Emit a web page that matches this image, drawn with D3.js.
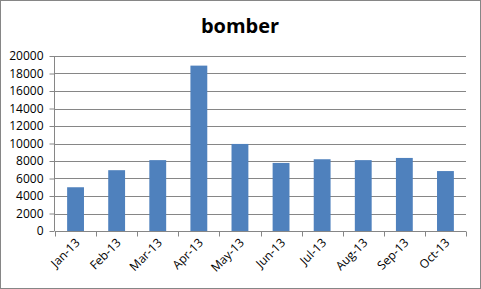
<!DOCTYPE html>
<html>
<head>
<meta charset="utf-8">
<script src="https://cdn.jsdelivr.net/npm/d3@7"></script>
<style>
  body { margin: 0; background: #fff; }
  text { font-family: "Open Sans", "Liberation Sans", sans-serif; }
</style>
</head>
<body>
<div id="chart"></div>
<script>
"use strict"

// data
const months = ["Jan-13", "Feb-13", "Mar-13", "Apr-13", "May-13", "Jun-13", "Jul-13", "Aug-13", "Sep-13", "Oct-13"];
const counts = [5000, 6950, 8100, 18900, 9950, 7780, 8200, 8100, 8350, 6850];
const yTicks = [0, 2000, 4000, 6000, 8000, 10000, 12000, 14000, 16000, 18000, 20000];

const W = 481, H = 289;
const margin = {top: 56, right: 15, bottom: 58, left: 55},
  width = W - margin.left - margin.right,
  height = H - margin.top - margin.bottom;

const svgRoot = d3.select("#chart").append("svg")
  .attr("width", W)
  .attr("height", H);

// outer frame
svgRoot.append("rect")
  .attr("x", 0.5).attr("y", 0.5)
  .attr("width", W - 1).attr("height", H - 1)
  .attr("fill", "#fff")
  .attr("stroke", "#868686");

const svg = svgRoot.append("g")
  .attr("transform", "translate(" + margin.left + "," + margin.top + ")");

const x = d3.scaleBand()
  .domain(months)
  .range([0, width])
  .paddingInner(0.59)
  .paddingOuter(0.295);

const y = d3.scaleLinear()
  .domain([0, 20000])
  .range([height, 0]);

// gridlines
svg.append("g")
  .selectAll("line")
  .data(yTicks.filter(d => d > 0))
  .enter().append("line")
    .attr("x1", 0).attr("x2", width)
    .attr("y1", d => Math.round(y(d)) + 0.5)
    .attr("y2", d => Math.round(y(d)) + 0.5)
    .attr("stroke", "#868686");

// bars
svg.selectAll(".bar")
  .data(counts)
  .enter().append("rect")
    .attr("class", "bar")
    .attr("x", (d, i) => x(months[i]))
    .attr("y", d => y(d))
    .attr("width", x.bandwidth())
    .attr("height", d => height - y(d))
    .attr("fill", "#4F81BD");

// y axis
const yAxis = svg.append("g")
  .attr("transform", "translate(-0.5,0)")
  .call(d3.axisLeft(y).tickValues(yTicks).tickSize(5).tickPadding(6).tickFormat(d3.format("d")));
yAxis.selectAll("text").style("font-size", "12px").attr("fill", "#000");
yAxis.selectAll("line, path").attr("stroke", "#868686");
yAxis.select(".domain").attr("d", "M0,0V" + height);

// x axis, ticks on band edges
const xAxis = svg.append("g")
  .attr("transform", "translate(0," + (height + 0.5) + ")");
xAxis.append("line")
  .attr("x1", 0).attr("x2", width)
  .attr("stroke", "#868686");
xAxis.selectAll(".edge")
  .data(d3.range(months.length + 1))
  .enter().append("line")
    .attr("class", "edge")
    .attr("x1", i => Math.round(i * width / months.length) + 0.5)
    .attr("x2", i => Math.round(i * width / months.length) + 0.5)
    .attr("y1", 0).attr("y2", 5)
    .attr("stroke", "#868686");
xAxis.selectAll(".lbl")
  .data(months)
  .enter().append("text")
    .attr("class", "lbl")
    .attr("text-anchor", "end")
    .attr("transform", d => "translate(" + (x(d) + x.bandwidth() / 2 + 5) + ",12) rotate(-45)")
    .style("font-size", "12px")
    .text(d => d);

// title
svgRoot.append("text")
  .attr("x", 240)
  .attr("y", 33)
  .attr("text-anchor", "middle")
  .style("font-size", "20px")
  .style("font-weight", "bold")
  .text("bomber");
</script>
</body>
</html>
